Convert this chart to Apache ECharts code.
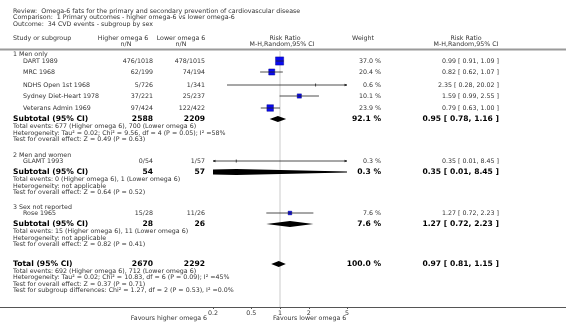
<!DOCTYPE html>
<html>
<head>
<meta charset="UTF-8">
<title>Forest plot</title>
<script src="https://cdn.jsdelivr.net/npm/echarts@6/dist/echarts.min.js"></script>
<style>
	html,body{margin:0;padding:0;background:#fff;}
	#chart{width:566px;height:324px;}
</style>
</head>
<body>
<div id="chart"></div>
<script type="text/javascript">
// ---- data ----
var studies = ['DART 1989', 'MRC 1968', 'NDHS Open 1st 1968', 'Sydney Diet-Heart 1978', 'Veterans Admin 1969', 'GLAMT 1993', 'Rose 1965'];
var studyGroup = [0, 0, 0, 0, 0, 1, 2];
var higherEvents = [476, 62, 5, 37, 97, 0, 15];
var higherTotal = [1018, 199, 726, 221, 424, 54, 28];
var lowerEvents = [478, 74, 1, 25, 122, 1, 11];
var lowerTotal = [1015, 194, 341, 237, 422, 57, 26];
var weights = [37.0, 20.4, 0.6, 10.1, 23.9, 0.3, 7.6];
var rr = [0.99, 0.82, 2.35, 1.59, 0.79, 0.35, 1.27];
var rrLow = [0.91, 0.62, 0.28, 0.99, 0.63, 0.01, 0.72];
var rrHigh = [1.09, 1.07, 20.02, 2.55, 1.00, 8.45, 2.23];

var subgroups = ['1 Men only', '2 Men and women', '3 Sex not reported'];
var subHigherN = [2588, 54, 28];
var subLowerN = [2209, 57, 26];
var subWeight = [92.1, 0.3, 7.6];
var subRR = [0.95, 0.35, 1.27];
var subLow = [0.78, 0.01, 0.72];
var subHigh = [1.16, 8.45, 2.23];
var subNotes = [
	['Total events: 677 (Higher omega 6), 700 (Lower omega 6)',
	 'Heterogeneity: Tau\u00b2 = 0.02; Chi\u00b2 = 9.56, df = 4 (P = 0.05); I\u00b2 =58%',
	 'Test for overall effect: Z = 0.49 (P = 0.63)'],
	['Total events: 0 (Higher omega 6), 1 (Lower omega 6)',
	 'Heterogeneity: not applicable',
	 'Test for overall effect: Z = 0.64 (P = 0.52)'],
	['Total events: 15 (Higher omega 6), 11 (Lower omega 6)',
	 'Heterogeneity: not applicable',
	 'Test for overall effect: Z = 0.82 (P = 0.41)']
];
var totalN = [2670, 2292];
var totalWeight = 100.0;
var totalRR = [0.97, 0.81, 1.15];
var totalNotes = [
	'Total events: 692 (Higher omega 6), 712 (Lower omega 6)',
	'Heterogeneity: Tau\u00b2 = 0.02; Chi\u00b2 = 10.83, df = 6 (P = 0.09); I\u00b2 =45%',
	'Test for overall effect: Z = 0.37 (P = 0.71)',
	'Test for subgroup differences: Chi\u00b2 = 1.27, df = 2 (P = 0.53), I\u00b2 =0.0%'
];
var titleLines = [
	'Review:  Omega-6 fats for the primary and secondary prevention of cardiovascular disease',
	'Comparison:  1 Primary outcomes - higher omega-6 vs lower omega-6',
	'Outcome:  34 CVD events - subgroup by sex'
];
var tickValues = [0.2, 0.5, 1, 2, 5];
var nullEffect = 1;

// ---- layout (pixel rows) ----
var XMIN = 0.2, XMAX = 5;
var PLOT_TOP = 50, PLOT_BOTTOM = 307;
var titleY = [11, 17.5, 24];
var headY = [38, 44];
var groupY = [54, 155, 207];
var studyY = [61, 72, 85, 96, 108, 161, 213];
var subY = [119, 172, 224];
var totalY = 264;
var COL = {name: 13, indent: 23, hi: 153, lo: 205, hiHead: 123, loHead: 181, plot: 282, w: 381, wHead: 363, rr: 499, rrHead: 466};
var FONT = '6.3px "DejaVu Sans"';
var BOLD = 'bold 7.6px "DejaVu Sans"';
var TXT = '#333';

var g = [];
function txt(s, x, y, align, font, color) {
	g.push({type: 'text', x: x, y: y, silent: true,
		style: {text: s, font: font || FONT, fill: color || TXT, align: align || 'left', verticalAlign: 'middle'}});
}
function ci(v, l, h) { return v.toFixed(2) + ' [ ' + l.toFixed(2) + ', ' + h.toFixed(2) + ' ]'; }

titleLines.forEach(function(s, i){ txt(s, COL.name, titleY[i]); });
txt('Study or subgroup', COL.name, headY[0]);
txt('Higher omega 6', COL.hiHead, headY[0], 'center');
txt('n/N', COL.hiHead + 3, headY[1], 'center');
txt('Lower omega 6', COL.loHead, headY[0], 'center');
txt('n/N', COL.loHead, headY[1], 'center');
txt('Risk Ratio', COL.plot + 3, headY[0], 'center');
txt('M-H,Random,95% CI', COL.plot, headY[1], 'center');
txt('Weight', COL.wHead, headY[0], 'center');
txt('Risk Ratio', COL.rrHead, headY[0], 'center');
txt('M-H,Random,95% CI', COL.rrHead, headY[1], 'center');

subgroups.forEach(function(s, i){ txt(s, COL.name, groupY[i]); });
studies.forEach(function(s, i){
	var y = studyY[i];
	txt(s, COL.indent, y);
	txt(higherEvents[i] + '/' + higherTotal[i], COL.hi, y, 'right');
	txt(lowerEvents[i] + '/' + lowerTotal[i], COL.lo, y, 'right');
	txt(weights[i].toFixed(1) + ' %', COL.w, y, 'right');
	txt(ci(rr[i], rrLow[i], rrHigh[i]), COL.rr, y, 'right');
});
subgroups.forEach(function(s, i){
	var y = subY[i];
	txt('Subtotal (95% CI)', COL.name, y, 'left', BOLD, '#000');
	txt(String(subHigherN[i]), COL.hi, y, 'right', BOLD, '#000');
	txt(String(subLowerN[i]), COL.lo, y, 'right', BOLD, '#000');
	txt(subWeight[i].toFixed(1) + ' %', COL.w, y, 'right', BOLD, '#000');
	txt(ci(subRR[i], subLow[i], subHigh[i]), COL.rr, y, 'right', BOLD, '#000');
	subNotes[i].forEach(function(n, k){ txt(n, COL.name, y + 7.5 + k * 6.4); });
});
txt('Total (95% CI)', COL.name, totalY, 'left', BOLD, '#000');
txt(String(totalN[0]), COL.hi, totalY, 'right', BOLD, '#000');
txt(String(totalN[1]), COL.lo, totalY, 'right', BOLD, '#000');
txt(totalWeight.toFixed(1) + ' %', COL.w, totalY, 'right', BOLD, '#000');
txt(ci(totalRR[0], totalRR[1], totalRR[2]), COL.rr, totalY, 'right', BOLD, '#000');
totalNotes.forEach(function(n, k){ txt(n, COL.name, totalY + 7 + k * 6.5); });

txt('Favours higher omega 6', 207, 318, 'right');
txt('Favours lower omega 6', 273, 318, 'left');

// rules across the page
g.push({type: 'line', silent: true, shape: {x1: 0, y1: 49.5, x2: 566, y2: 49.5}, style: {stroke: '#9a9a9a', lineWidth: 2}});
g.push({type: 'line', silent: true, shape: {x1: 0, y1: 307.5, x2: 566, y2: 307.5}, style: {stroke: '#555', lineWidth: 1}});

// ---- series data ----
var studyData = studies.map(function(s, i){ return [rr[i], studyY[i], rrLow[i], rrHigh[i], weights[i]]; });
var diamondData = subgroups.map(function(s, i){ return [subRR[i], subY[i], subLow[i], subHigh[i]]; });
diamondData.push([totalRR[0], totalY, totalRR[1], totalRR[2]]);

function renderNull(params, api) {
	var a = api.coord([api.value(0), PLOT_TOP]);
	var b = api.coord([api.value(0), PLOT_BOTTOM]);
	return {type: 'line', shape: {x1: a[0], y1: a[1], x2: b[0], y2: b[1]}, style: {stroke: '#dcdcdc', lineWidth: 1.5}};
}

function renderStudy(params, api) {
	var v = api.value(0), y = api.value(1), l = api.value(2), h = api.value(3), w = api.value(4);
	var pl = api.coord([Math.max(l, XMIN), y]);
	var ph = api.coord([Math.min(h, XMAX), y]);
	var pe = api.coord([v, y]);
	var s = Math.sqrt(w) * 1.35;
	var kids = [];
	if (s >= 2) {
		kids.push({type: 'rect', shape: {x: pe[0] - s / 2, y: pe[1] - s / 2, width: s, height: s},
			style: {fill: '#0a0af0', stroke: '#00007a', lineWidth: 0.4}});
	} else {
		kids.push({type: 'line', shape: {x1: pe[0], y1: pe[1] - 1.5, x2: pe[0], y2: pe[1] + 1.5}, style: {stroke: '#222', lineWidth: 0.8}});
	}
	kids.push({type: 'line', shape: {x1: pl[0], y1: pl[1], x2: ph[0], y2: ph[1]}, style: {stroke: '#222', lineWidth: 0.8}});
	if (l < XMIN) {
		kids.push({type: 'polygon', shape: {points: [[pl[0] - 1, pl[1]], [pl[0] + 2.5, pl[1] - 1.3], [pl[0] + 2.5, pl[1] + 1.3]]}, style: {fill: '#222'}});
	}
	if (h > XMAX) {
		kids.push({type: 'polygon', shape: {points: [[ph[0] + 1, ph[1]], [ph[0] - 2.5, ph[1] - 1.3], [ph[0] - 2.5, ph[1] + 1.3]]}, style: {fill: '#222'}});
	}
	return {type: 'group', children: kids};
}

function renderDiamond(params, api) {
	var v = api.value(0), y = api.value(1), l = api.value(2), h = api.value(3);
	var pl = api.coord([l, y]), pe = api.coord([v, y]), ph = api.coord([h, y]);
	return {type: 'polygon',
		shape: {points: [[pl[0], pl[1]], [pe[0], pe[1] - 3], [ph[0], ph[1]], [pe[0], pe[1] + 3]]},
		style: {fill: '#000'}};
}

var myChart = echarts.init(document.getElementById('chart'), null, {renderer: 'canvas'});
myChart.setOption({
	animation: false,
	backgroundColor: '#fff',
	grid: {left: 213, width: 134, top: PLOT_TOP, bottom: 324 - PLOT_BOTTOM, containLabel: false},
	xAxis: {
		type: 'log', logBase: 10, min: XMIN, max: XMAX,
		axisLine: {show: false},
		splitLine: {show: false},
		axisTick: {show: true, length: 2, customValues: tickValues, lineStyle: {color: '#555'}},
		axisLabel: {show: true, customValues: tickValues, margin: 3, fontSize: 6.3, fontFamily: 'DejaVu Sans', color: '#333',
			formatter: function(v){ return String(Math.round(v * 10) / 10); }}
	},
	yAxis: {type: 'value', inverse: true, min: PLOT_TOP, max: PLOT_BOTTOM, show: false},
	graphic: g,
	series: [
		{type: 'custom', name: 'null', renderItem: renderNull, data: [[nullEffect]], z: 1, encode: {x: 0}},
		{type: 'custom', name: 'studies', renderItem: renderStudy, data: studyData, clip: true, z: 3, encode: {x: 0, y: 1}},
		{type: 'custom', name: 'pooled', renderItem: renderDiamond, data: diamondData, clip: true, z: 3, encode: {x: 0, y: 1}}
	]
});
</script>
</body>
</html>
